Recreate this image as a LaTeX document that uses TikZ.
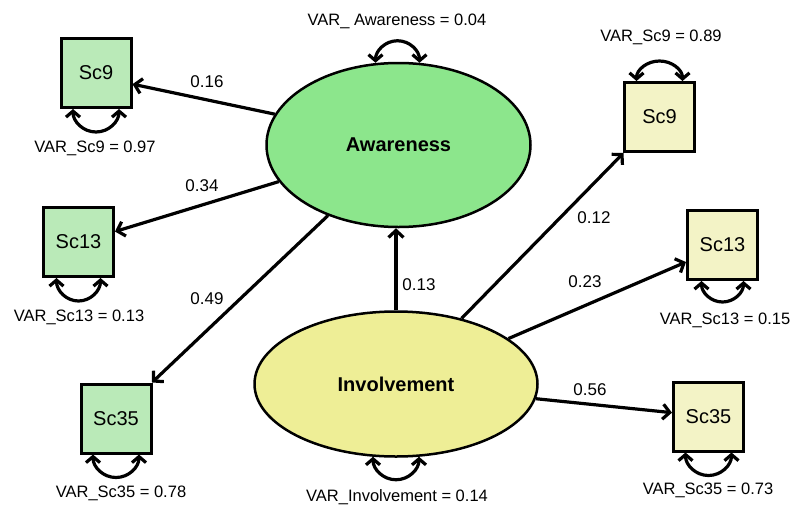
\documentclass[tikz,border=0pt]{standalone}
\usepackage{fontspec}
\setmainfont{Liberation Sans}
\usetikzlibrary{shapes.geometric,arrows.meta}
\definecolor{awfill}{RGB}{140,230,140}
\definecolor{invfill}{RGB}{238,238,150}
\definecolor{gbox}{RGB}{186,234,184}
\definecolor{ybox}{RGB}{243,243,198}
\tikzset{
 latent/.style={ellipse, draw, line width=2.5pt, inner sep=0pt, font=\fontsize{20}{24}\selectfont\bfseries},
 obs/.style={rectangle, draw, line width=3pt, minimum width=70pt, minimum height=69pt, inner sep=0pt, font=\fontsize{20}{24}\selectfont},
 gobs/.style={obs, fill=gbox},
 yobs/.style={obs, fill=ybox},
 effect/.style={line width=3.2pt, -{Straight Barb[length=7pt,width=15pt]}},
 varloop/.style={line width=3.2pt, {Straight Barb[length=6pt,width=14pt]}-{Straight Barb[length=6pt,width=14pt]}},
 lbl/.style={font=\fontsize{16.5}{19}\selectfont, inner sep=0pt},
 coef/.style={font=\fontsize{17}{20}\selectfont, inner sep=0pt},
}
\begin{document}
\begin{tikzpicture}[x=1pt,y=-1pt]
\path[use as bounding box, fill=white] (0,0) rectangle (795,509);
% latent variables
\node[latent, fill=awfill, minimum width=264pt, minimum height=164pt] (awe) at (398.5,145) {Awareness};
\node[latent, fill=invfill, minimum width=283pt, minimum height=145pt] (inv) at (396,384) {Involvement};
% observed
\node[gobs] (sc9l) at (96,73) {Sc9};
\node[gobs] (sc13l) at (78.5,242) {Sc13};
\node[gobs] (sc35l) at (116,418.5) {Sc35};
\node[yobs] (sc9r) at (659.5,117) {Sc9};
\node[yobs] (sc13r) at (722.5,245) {Sc13};
\node[yobs] (sc35r) at (708.5,416.5) {Sc35};
% paths
\draw[effect] (awe.166.8) -- (sc9l.-17);
\draw[effect] (awe.-163.3) -- (sc13l.16.9);
\draw[effect] (awe.-135.8) -- (sc35l.45);
\draw[effect] (inv.north) -- (inv.north |- awe.south);
\draw[effect] (inv.45.4) -- (sc9r.-135);
\draw[effect] (inv.22.8) -- (sc13r.-155.6);
\draw[effect] (inv.-6.1) -- (sc35r.174.8);
% coefficients
\node[coef] (c1) at (207,82) {0.16};
\node[coef] (c2) at (202,186) {0.34};
\node[coef] (c3) at (207,299) {0.49};
\node[coef] (c4) at (419,285) {0.13};
\node[coef] (c5) at (594,218) {0.12};
\node[coef] (c6) at (585,282) {0.23};
\node[coef] (c7) at (590,390) {0.56};
% variance loops
\draw[varloop] ([xshift=-23pt]sc9l.south) arc[start angle=180,end angle=0,radius=23];
\draw[varloop] ([xshift=-22pt]sc13l.south) arc[start angle=180,end angle=0,x radius=22,y radius=23];
\draw[varloop] ([xshift=-23pt]sc35l.south) arc[start angle=180,end angle=0,radius=23];
\draw[varloop] ([xshift=-23pt]sc9r.north) arc[start angle=180,end angle=360,x radius=23,y radius=20];
\draw[varloop] ([xshift=-21pt]sc13r.south) arc[start angle=180,end angle=0,x radius=21,y radius=21];
\draw[varloop] ([xshift=-23pt]sc35r.south) arc[start angle=180,end angle=0,radius=23];
\draw[varloop] ([xshift=-23pt,yshift=-1pt]awe.north) arc[start angle=180,end angle=360,radius=22];
\draw[varloop] ([xshift=-23pt,yshift=1pt]inv.south) arc[start angle=180,end angle=0,radius=23];
% variance labels
\node[lbl] (v1) at (95,148) {VAR\_Sc9 = 0.97};
\node[lbl] (v2) at (79,317) {VAR\_Sc13 = 0.13};
\node[lbl] (v3) at (121,493) {VAR\_Sc35 = 0.78};
\node[lbl] (v4) at (397,21) {VAR\_ Awareness = 0.04};
\node[lbl] (v5) at (661,37) {VAR\_Sc9 = 0.89};
\node[lbl] (v6) at (725,320) {VAR\_Sc13 = 0.15};
\node[lbl] (v7) at (397,497) {VAR\_Involvement = 0.14};
\node[lbl] (v8) at (708,490) {VAR\_Sc35 = 0.73};
\end{tikzpicture}
\end{document}
